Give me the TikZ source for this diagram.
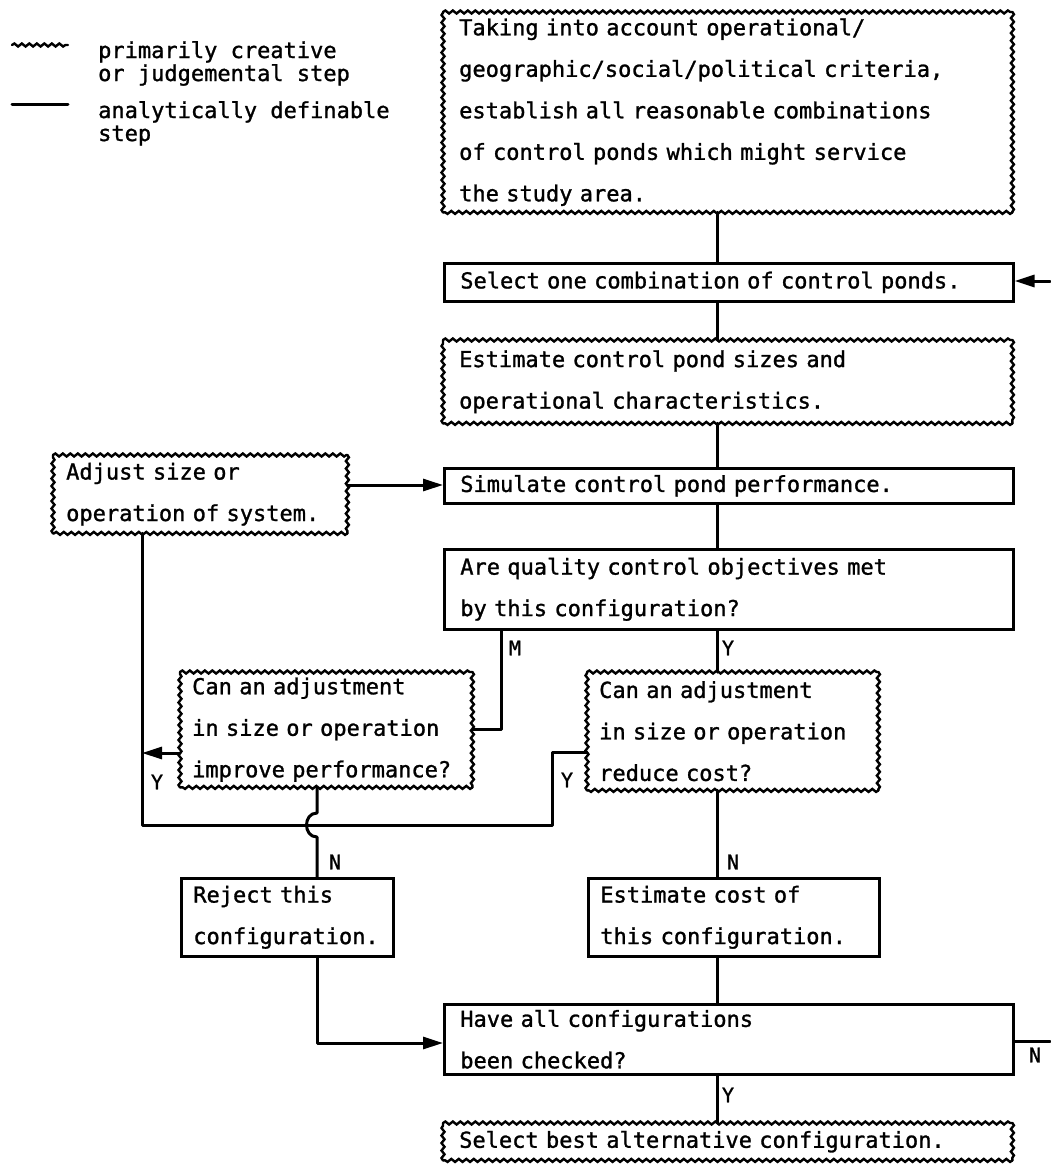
\documentclass[tikz,border=0pt]{standalone}
\usepackage{fontspec}
\newfontfamily\twfont[RawFeature={embolden=1.2}]{DejaVu Sans Mono}
\usetikzlibrary{arrows.meta,decorations.pathmorphing}
\newcommand\wavyframe[1]{%
  \draw[wavyline] (#1.north west) -- (#1.north east);
  \draw[wavyline] (#1.north east) -- (#1.south east);
  \draw[wavyline] (#1.south east) -- (#1.south west);
  \draw[wavyline] (#1.south west) -- (#1.north west);}
\begin{document}
\begin{tikzpicture}[x=1pt,y=-1pt,
  txt/.style={font=\twfont\fontsize{22}{41.5}\selectfont},
  base/.style={txt, anchor=north west, align=left, inner ysep=0pt, inner xsep=#1},
  base/.default=16pt,
  sbox/.style={base=#1, draw, line width=2.6pt},
  sbox/.default=16pt,
  wbox/.style={base=#1},
  wbox/.default=16pt,
  wavyline/.style={line width=2.4pt, line cap=round, decorate, decoration={snake, amplitude=1.5pt, segment length=7.5pt}},
  conn/.style={line width=3pt, line cap=round, line join=round},
  arr/.style={-{Triangle[length=20pt,width=12pt]}},
  lab/.style={font=\twfont\fontsize{20}{22}\selectfont, inner sep=0pt},
  legtxt/.style={font=\twfont\fontsize{22}{23}\selectfont, align=left, anchor=north west, inner sep=0pt}
]
\fill[white] (0,0) rectangle (1050,1166);
\useasboundingbox (0,0) rectangle (1050,1166);

% legend
\coordinate (l1a) at (12,45);
\coordinate (l1b) at (68,45);
\coordinate (l2a) at (12,105);
\coordinate (l2b) at (68,105);
\draw[wavyline] (l1a) -- (l1b);
\draw[conn] (l2a) -- (l2b);
\node[legtxt] (leg1) at (98,41) {primarily creative\\or judgemental step};
\node[legtxt] (leg2) at (98,101) {analytically definable\\step};

% boxes
\node[wbox, text width=537pt, minimum height=200pt] (top) at (443,12) {Taking into account operational/\\geographic/social/political criteria,\\establish all reasonable combinations\\of control ponds which might service\\the study area.};
\node[sbox, text width=537pt, minimum height=38pt] (select) at (443,262) {\mbox{Select one combination of control ponds.}};
\node[wbox, text width=537pt, minimum height=83pt] (estim) at (443,340) {Estimate control pond sizes and\\operational characteristics.};
\node[sbox, text width=537pt, minimum height=35pt] (simul) at (443,467) {Simulate control pond performance.};
\node[sbox, text width=537pt, minimum height=80pt] (are) at (443,548) {Are quality control objectives met\\by this configuration?};
\node[wbox=13pt, text width=268pt, minimum height=78pt] (adjust) at (53,455) {Adjust size or\\operation of system.};
\node[wbox=12pt, text width=268pt, minimum height=115pt] (canL) at (180,672) {Can an adjustment\\in size or operation\\improve performance?};
\node[wbox=12pt, text width=267pt, minimum height=118pt] (canR) at (587,672) {Can an adjustment\\in size or operation\\reduce cost?};
\node[sbox=12pt, text width=188pt, minimum height=78pt] (reject) at (180,877) {Reject this\\configuration.};
\node[sbox=12pt, text width=267pt, minimum height=78pt] (estcost) at (587,877) {Estimate cost of\\this configuration.};
\node[sbox, text width=537pt, minimum height=70pt] (haveall) at (443,1003) {Have all configurations\\been checked?};
\node[wbox, text width=537pt, minimum height=37pt] (best) at (443,1123) {Select best alternative configuration.};

\wavyframe{top}
\wavyframe{estim}
\wavyframe{adjust}
\wavyframe{canL}
\wavyframe{canR}
\wavyframe{best}

% helper coordinates
\coordinate (sp) at (717,0);
\coordinate (mx) at (501,0);
\coordinate (lx) at (142,0);
\coordinate (jx) at (317,0);
\coordinate (rx) at (552,0);
\coordinate (y753) at (0,753);
\coordinate (hy) at (0,825);
\coordinate (ry) at (0,752);
\coordinate (j1) at (0,813);
\coordinate (j2) at (0,837);
\coordinate (ay) at (0,1043);
\coordinate (sy) at (0,485);
\coordinate (rN) at (1050,1041);
\coordinate (rS) at (1050,281);

% spine
\draw[conn] (top.south -| sp) -- (select.north -| sp);
\draw[conn] (select.south -| sp) -- (estim.north -| sp);
\draw[conn] (estim.south -| sp) -- (simul.north -| sp);
\draw[conn] (simul.south -| sp) -- (are.north -| sp);
\draw[conn] (are.south -| sp) -- (canR.north -| sp);
\draw[conn] (canR.south -| sp) -- (estcost.north -| sp);
\draw[conn] (estcost.south -| sp) -- (haveall.north -| sp);
\draw[conn] (haveall.south -| sp) -- (best.north -| sp);

% other connectors
\draw[conn, arr] (rS) -- (select.east |- rS);
\draw[conn, arr] (adjust.east |- sy) -- (simul.west |- sy);
\draw[conn] (are.south -| mx) |- (canL.east);
\draw[conn, arr] (canL.west |- y753) -- (lx |- y753);
\draw[conn] (adjust.south -| lx) -- (lx |- hy) -- (rx |- hy) -- (rx |- ry) -- (canR.west |- ry);
\draw[conn] (canL.south -| jx) -- (jx |- j1) .. controls +(-14,0) and +(-14,0) .. (jx |- j2) -- (reject.north -| jx);
\draw[conn, arr] (reject.south -| jx) |- (haveall.west |- ay);
\draw[conn] (haveall.east |- rN) -- (rN);

% labels
\node[lab] (lM) at (515,648) {M};
\node[lab] (lY1) at (728,648) {Y};
\node[lab] (lY2) at (157,782) {Y};
\node[lab] (lY3) at (567,780) {Y};
\node[lab] (lN1) at (335,862) {N};
\node[lab] (lN2) at (733,862) {N};
\node[lab] (lN3) at (1035,1055) {N};
\node[lab] (lY4) at (728,1095) {Y};
\end{tikzpicture}
\end{document}
